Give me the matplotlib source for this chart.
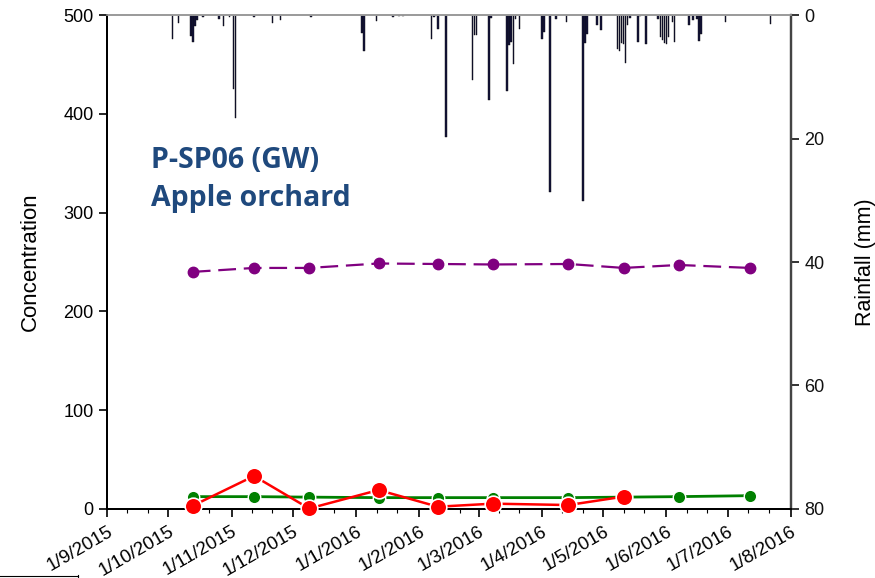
import matplotlib
matplotlib.use("Agg")
import matplotlib.pyplot as plt
import matplotlib.dates as mdates
import numpy as np
import pandas as pd

plt.rcParams['font.family'] = ['Liberation Sans', 'DejaVu Sans']

# Sampling dates and measured concentrations
sample_dates = pd.to_datetime([
    "2015-10-13", "2015-11-12", "2015-12-09", "2016-01-12", "2016-02-10",
    "2016-03-08", "2016-04-14", "2016-05-11", "2016-06-07", "2016-07-12",
])
purple_vals = [240, 244, 244, 248.5, 248, 247.5, 248, 244, 247, 244]
green_vals = [12.5, 12.5, 12, 11.5, 11.5, 11.5, 11.5, 12, 12.5, 13.5]
red_vals = [3.3, 33.4, 0.5, 19.2, 2.3, 5.4, 4.0, 12.5]

# Daily rainfall (mm)
rain_dates = pd.to_datetime([
    "2015-10-03", "2015-10-06", "2015-10-12", "2015-10-13", "2015-10-14",
    "2015-10-15", "2015-10-18", "2015-10-26", "2015-10-28", "2015-10-31",
    "2015-11-02", "2015-11-03", "2015-11-12", "2015-11-21", "2015-11-25",
    "2015-12-10", "2016-01-04", "2016-01-05", "2016-01-11", "2016-01-19",
    "2016-01-22", "2016-01-24", "2016-02-07", "2016-02-08", "2016-02-10",
    "2016-02-14", "2016-02-27", "2016-02-28", "2016-02-29", "2016-03-06",
    "2016-03-07", "2016-03-15", "2016-03-16", "2016-03-17", "2016-03-18",
    "2016-03-19", "2016-03-21", "2016-04-01", "2016-04-02", "2016-04-05",
    "2016-04-08", "2016-04-13", "2016-04-21", "2016-04-22", "2016-04-23",
    "2016-04-28", "2016-04-30", "2016-05-08", "2016-05-09", "2016-05-10",
    "2016-05-11", "2016-05-12", "2016-05-13", "2016-05-14", "2016-05-18",
    "2016-05-19", "2016-05-22", "2016-05-28", "2016-05-29", "2016-05-30",
    "2016-05-31", "2016-06-01", "2016-06-02", "2016-06-04", "2016-06-05",
    "2016-06-12", "2016-06-14", "2016-06-16", "2016-06-17", "2016-06-18",
    "2016-06-30", "2016-07-22",
])
rain_mm = [
    3.9, 1.35, 3.35, 4.4, 1.7,
    0.8, 0.3, 0.7, 1.8, 0.3,
    11.9, 16.7, 0.3, 1.35, 0.8,
    0.3, 2.9, 5.8, 0.9, 0.4,
    0.2, 0.2, 3.9, 0.3, 2.3,
    19.7, 10.5, 3.2, 3.2, 13.8,
    0.5, 12.3, 4.9, 4.3, 8.0,
    0.7, 2.2, 3.9, 2.7, 28.6,
    0.65, 1.1, 30.2, 4.6, 3.1,
    1.6, 2.5, 5.5, 5.8, 4.6,
    4.7, 7.8, 1.6, 0.5, 4.4,
    0.2, 4.7, 0.65, 3.5, 4.05,
    4.6, 4.75, 3.5, 1.1, 4.4,
    1.6, 0.8, 0.7, 4.2, 3.1,
    1.1, 1.45,
]

tick_dates = pd.date_range("2015-09-01", "2016-08-01", freq="MS")
tick_labels = [f"{d.day}/{d.month}/{d.year}" for d in tick_dates]

fig = plt.figure(figsize=(8.75, 5.78), dpi=100)
ax = fig.add_axes([0.1223, 0.1194, 0.7817, 0.8546])
ax2 = ax.twinx()

# Rainfall bars hanging from the top
ax2.bar(rain_dates, rain_mm, width=0.8, color="#14143c", edgecolor="#0a0a0a",
        linewidth=0.3, align="center")
ax2.set_ylim(80, 0)
ax2.set_yticks([0, 20, 40, 60, 80])
ax2.set_ylabel("Rainfall (mm)", fontsize=15.5, labelpad=22)
ax2.tick_params(axis="y", labelsize=13, direction="out", length=6, width=1.2,
                colors="#111111")

# Concentration series
ax.set_zorder(ax2.get_zorder() + 1)
ax.patch.set_visible(False)
ax.plot(sample_dates, purple_vals, color="#800080", linewidth=1.6,
        dashes=(8, 3.5), marker="o", markersize=7.5, markeredgecolor="#800080",
        zorder=3)
ax.plot(sample_dates, green_vals, color="#008000", linewidth=2.0,
        marker="o", markersize=9, markeredgecolor="white", markeredgewidth=1.0,
        zorder=3)
ax.plot(sample_dates[:len(red_vals)], red_vals, color="#ff0000", linewidth=1.8,
        marker="o", markersize=12, markeredgecolor="white", markeredgewidth=1.2,
        zorder=4, clip_on=False)

ax.set_xlim(tick_dates[0], tick_dates[-1])
ax.set_ylim(0, 500)
ax.set_yticks([0, 100, 200, 300, 400, 500])
ax.set_ylabel("Concentration", fontsize=16, labelpad=16)
ax.tick_params(axis="y", labelsize=13, direction="out", length=6, width=1.2)

ax.set_xticks(tick_dates)
ax.set_xticklabels(tick_labels, rotation=30, ha="right", rotation_mode="anchor",
                   fontsize=13.5)
ax.xaxis.set_minor_locator(mdates.DayLocator(bymonthday=[11, 21]))
ax.tick_params(axis="x", which="major", direction="out", length=6, width=1.2,
               pad=4)
ax.tick_params(axis="x", which="minor", direction="out", length=3, width=0.8)

for a in (ax, ax2):
    a.spines["top"].set_color("#9a9a9a")
    a.spines["top"].set_linewidth(1.2)
    a.spines["left"].set_linewidth(1.4)
    a.spines["bottom"].set_linewidth(1.4)
    a.spines["right"].set_color("#444444")
    a.spines["right"].set_linewidth(1.6)

ax.text(0.065, 0.667, "P-SP06 (GW)\nApple orchard", transform=ax.transAxes,
        fontsize=20.5, fontweight="bold", color="#1f497d", family="Open Sans",
        va="center", ha="left", linespacing=1.45)

# Fragment of a frame at the lower-left corner
fig.add_artist(plt.Line2D([0.0, 0.089], [0.003, 0.003], color="black",
                          linewidth=0.8, transform=fig.transFigure))
fig.add_artist(plt.Line2D([0.089, 0.089], [0.0, 0.006], color="black",
                          linewidth=0.8, transform=fig.transFigure))

fig.savefig("out.png", dpi=100)
